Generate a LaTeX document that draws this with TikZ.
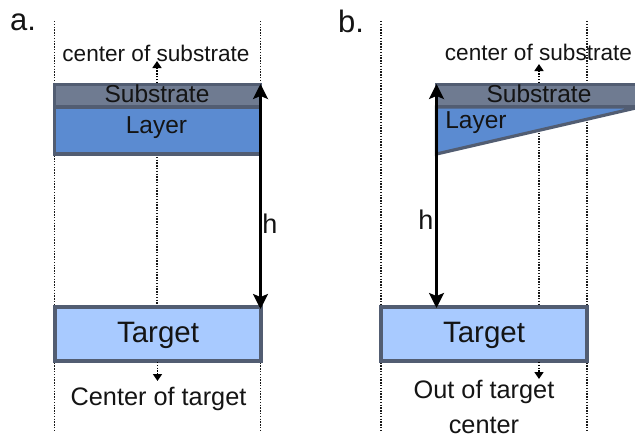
\documentclass[tikz,border=0pt]{standalone}
\usepackage{fontspec}
\setmainfont{Liberation Sans}
\usetikzlibrary{arrows.meta}
\definecolor{edgec}{HTML}{525D72}
\definecolor{subc}{HTML}{6F7B91}
\definecolor{layc}{HTML}{5B8BD1}
\definecolor{tarc}{HTML}{A8CAFF}
\tikzset{
  x=1pt,y=-1pt,
  guide/.style={line width=1.6pt,dash pattern=on 1.4pt off 1.4pt,black!90},
  plate/.style={draw=edgec,line width=3.2pt,line join=miter},
  lbl/.style={inner sep=0pt,text=black!92},
  smalltxt/.style={lbl,font=\fontsize{22.6}{22.6}\selectfont},
  midtxt/.style={lbl,font=\fontsize{24.5}{24.5}\selectfont},
  widetxt/.style={lbl,font=\fontsize{25.3}{25.3}\selectfont},
  bigtxt/.style={lbl,font=\fontsize{29.5}{29.5}\selectfont},
  hlbl/.style={lbl,font=\fontsize{27}{27}\selectfont},
  headtxt/.style={lbl,font=\fontsize{31}{31}\selectfont},
  bigarrow/.style={line width=2.6pt,black,{Stealth[length=15pt,width=15pt,inset=3pt]}-{Stealth[length=15pt,width=15pt,inset=3pt]}},
  minor/.style={line width=1.6pt,dash pattern=on 1.4pt off 1.4pt,black,-{Stealth[length=7pt,width=9pt,inset=0pt]}},
}
\begin{document}
\begin{tikzpicture}
\useasboundingbox (0,0) rectangle (635,439);
\clip (0,0) rectangle (635,439);
% guide end points
\coordinate (ga1) at (54.5,21); \coordinate (ga2) at (54.5,430);
\coordinate (gb1) at (260.5,21); \coordinate (gb2) at (260.5,430);
\coordinate (gc1) at (381,21); \coordinate (gc2) at (381,430);
\coordinate (gd1) at (587,21); \coordinate (gd2) at (587,430);
\coordinate (ca1) at (157,154); \coordinate (ca2) at (157,306);
\coordinate (cb1) at (539,130); \coordinate (cb2) at (539,306);
\draw[guide] (ga1) -- (ga2);
\draw[guide] (gb1) -- (gb2);
\draw[guide] (gc1) -- (gc2);
\draw[guide] (gd1) -- (gd2);
\draw[guide] (ca1) -- (ca2);
\draw[guide] (cb1) -- (cb2);
% left panel
\draw[plate,fill=subc] (54.5,84.5) rectangle (260.5,107);
\draw[plate,fill=layc] (54.5,107) rectangle (260.5,154);
\draw[plate,fill=tarc] (55,307) rectangle (261,361);
\coordinate (ha) at (260.5,84); \coordinate (hb) at (260.5,309);
\coordinate (sa) at (157,83); \coordinate (sb) at (157,61);
\coordinate (ta) at (157.5,362); \coordinate (tb) at (157.5,381);
\draw[minor] (sa) -- (sb);
\draw[minor] (ta) -- (tb);
\draw[bigarrow] (ha) -- (hb);
\node[headtxt] (alabel) at (23,22) {a.};
\node[smalltxt] (csa) at (156,53) {center of substrate};
\node[midtxt] (suba) at (157,94) {Substrate};
\node[midtxt] (laya) at (156.5,128) {Layer};
\node[hlbl] (hla) at (270,224) {h};
\node[bigtxt] (tara) at (158,335.5) {Target};
\node[widetxt] (cta) at (158.5,399) {Center of target};
% right panel
\draw[plate,fill=subc] (436.5,84.5) rectangle (650,107);
\draw[plate,fill=layc] (436.5,107) -- (640,107) -- (436.5,154) -- cycle;
\draw[plate,fill=tarc] (381,307) rectangle (587,361);
\coordinate (hc) at (436.5,84); \coordinate (hd) at (436.5,308);
\coordinate (se) at (539,83); \coordinate (sf) at (539,64);
\coordinate (tc) at (539,362); \coordinate (td) at (539,379);
\draw[minor] (se) -- (sf);
\draw[minor] (tc) -- (td);
\draw[bigarrow] (hc) -- (hd);
\node[headtxt] (blabel) at (351,21) {b.};
\node[smalltxt] (csb) at (538.5,52) {center of substrate};
\node[midtxt] (subb) at (539,94) {Substrate};
\node[midtxt] (layb) at (476,123) {Layer};
\node[hlbl] (hlb) at (426,220) {h};
\node[bigtxt] (tarb) at (484,335.5) {Target};
\node[widetxt] (ctb) at (484,392) {Out of target};
\node[widetxt] (ctc) at (484,425) {center};
\end{tikzpicture}
\end{document}
